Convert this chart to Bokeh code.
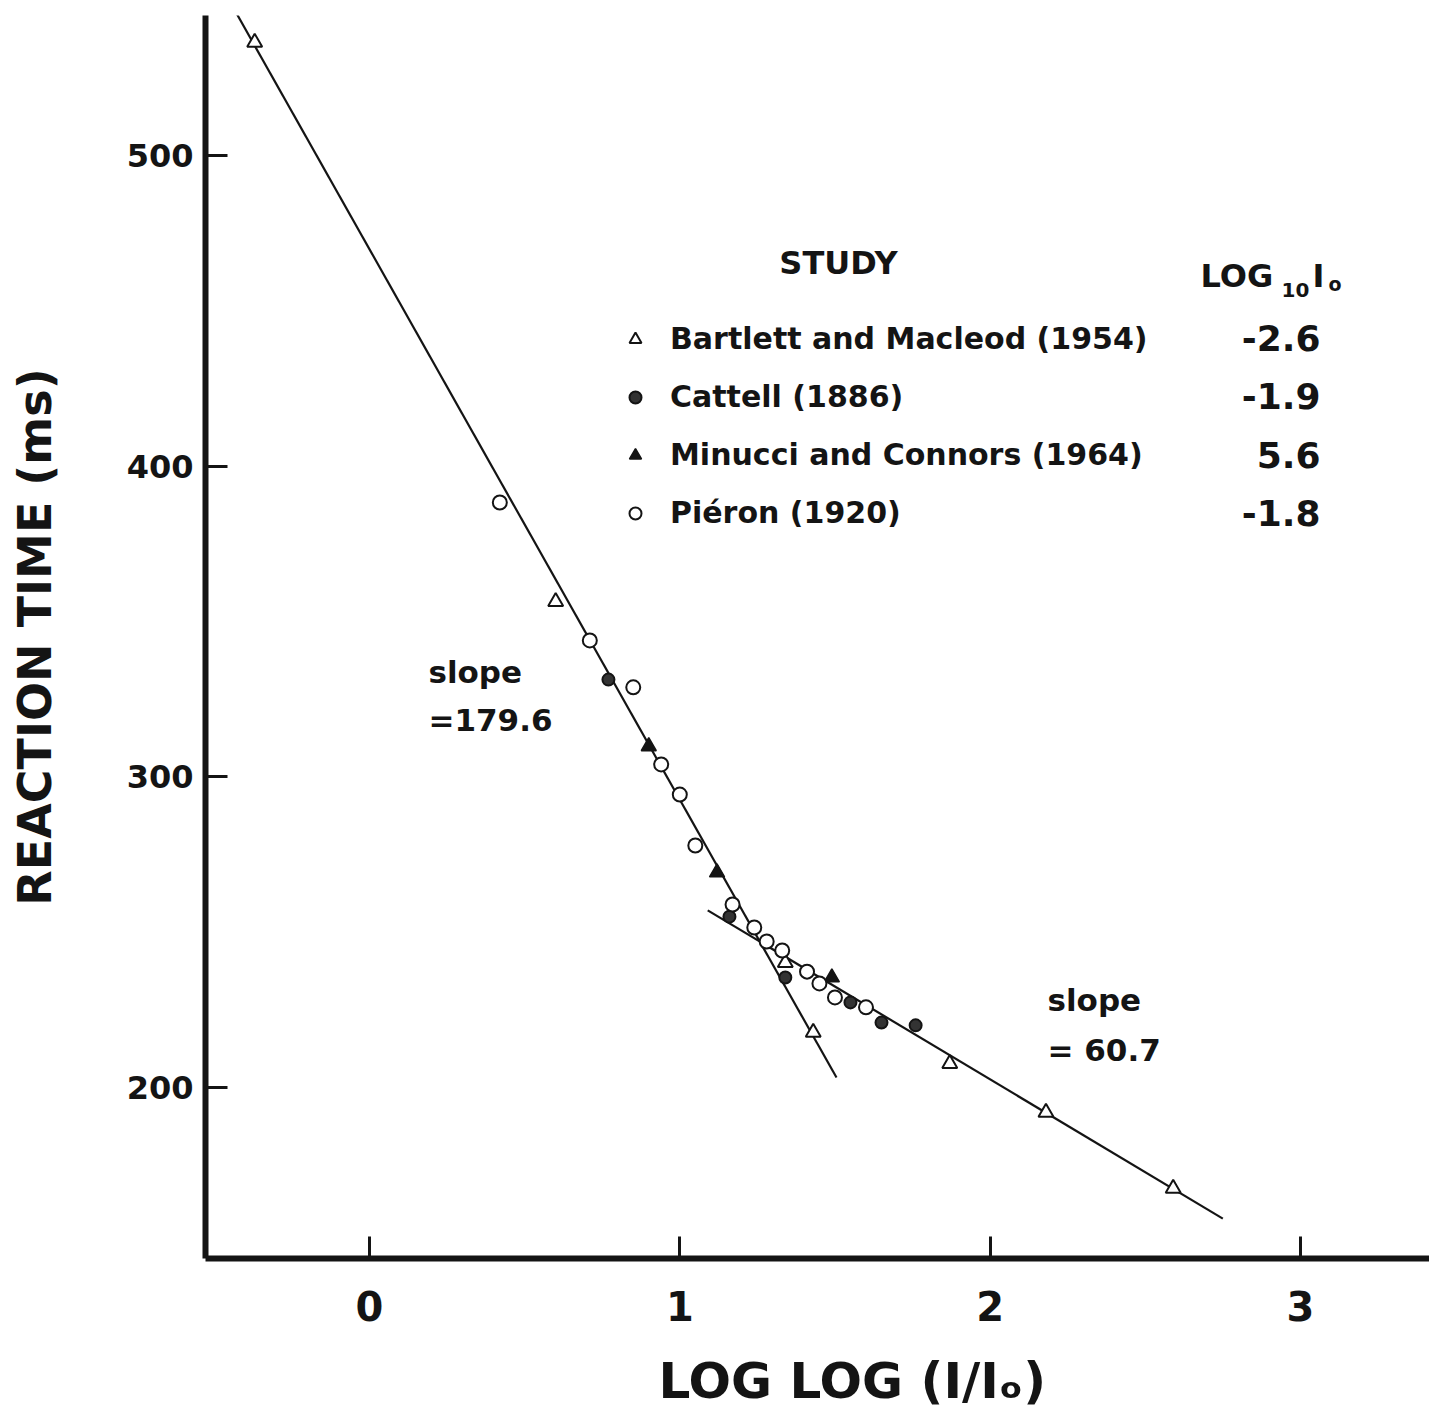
import math
from bokeh.plotting import figure
from bokeh.models import Range1d, Label, Legend, LegendItem, FixedTicker
from bokeh.embed import file_html
from bokeh.resources import INLINE

# ---------------- data ----------------
studies = ["Bartlett and Macleod (1954)", "Cattell (1886)",
           "Minucci and Connors (1964)", "Piéron (1920)"]
log10_I0 = ["-2.6", "-1.9", "5.6", "-1.8"]

bartlett_x = [-0.37, 0.60, 1.34, 1.43, 1.87, 2.18, 2.59]
bartlett_y = [536.4, 356.4, 240.2, 217.7, 207.7, 192.0, 167.5]

cattell_x = [0.77, 1.16, 1.34, 1.55, 1.65, 1.76]
cattell_y = [331.3, 255.0, 235.4, 227.4, 220.9, 220.0]

minucci_x = [0.90, 1.12, 1.49]
minucci_y = [309.8, 269.2, 235.4]

pieron_x = [0.42, 0.71, 0.85, 0.94, 1.00, 1.05, 1.17, 1.24, 1.28, 1.33,
            1.41, 1.45, 1.50, 1.60]
pieron_y = [388.3, 343.9, 328.8, 304.0, 294.3, 277.9, 258.9, 251.5, 247.0,
            244.1, 237.3, 233.5, 229.0, 225.8]

fit1_x = [-0.43, 1.505]
fit1_y = [546.0, 203.2]
fit2_x = [1.09, 2.75]
fit2_y = [257.0, 157.8]
slopes = [179.6, 60.7]

x_ticks = [0, 1, 2, 3]
y_ticks = [200, 300, 400, 500]

# ---------------- figure ----------------
FONT = "DejaVu Sans"
INK = "#141414"

p = figure(width=1429, height=1416, output_backend="svg", toolbar_location=None,
           x_range=Range1d(-0.5285, 3.416), y_range=Range1d(144.96, 545.06),
           min_border_left=205, min_border_right=0, min_border_top=15,
           min_border_bottom=158)
p.xgrid.visible = False
p.ygrid.visible = False
p.outline_line_color = None
p.background_fill_color = "white"
p.border_fill_color = "white"

for ax in (p.xaxis[0], p.yaxis[0]):
    ax.axis_line_width = 6
    ax.axis_line_color = INK
    ax.major_tick_in = 22
    ax.major_tick_out = 0
    ax.major_tick_line_width = 3
    ax.major_tick_line_color = INK
    ax.minor_tick_line_color = None
    ax.major_label_text_font = FONT
    ax.major_label_text_font_style = "bold"
    ax.major_label_text_color = INK
    ax.axis_label_text_font = FONT
    ax.axis_label_text_font_style = "bold"
    ax.axis_label_text_color = INK

p.xaxis.ticker = FixedTicker(ticks=x_ticks)
p.yaxis.ticker = FixedTicker(ticks=y_ticks)
p.xaxis.major_label_text_font_size = "40px"
p.xaxis.major_label_standoff = 32
p.yaxis.major_label_text_font_size = "32px"
p.yaxis.major_label_standoff = 12

p.yaxis.axis_label = "REACTION TIME (ms)"
p.yaxis.axis_label_text_font_size = "46px"
p.yaxis.axis_label_standoff = 62
# non-breaking spaces nudge the centred title to the right, as in the original
p.xaxis.axis_label = "\u00a0\u00a0\u00a0\u00a0LOG LOG (I/I\u2092)"
p.xaxis.axis_label_text_font_size = "50px"
p.xaxis.axis_label_standoff = 28

# fitted lines
p.line(fit1_x, fit1_y, line_color=INK, line_width=2.2)
p.line(fit2_x, fit2_y, line_color=INK, line_width=2.2)

# data points
r_b = p.scatter(bartlett_x, bartlett_y, marker="triangle", size=15,
                fill_color="white", line_color=INK, line_width=2)
r_c = p.scatter(cattell_x, cattell_y, marker="circle", size=12,
                fill_color="#333333", line_color=INK, line_width=2)
r_m = p.scatter(minucci_x, minucci_y, marker="triangle", size=15,
                fill_color=INK, line_color=INK, line_width=1.5)
r_p = p.scatter(pieron_x, pieron_y, marker="circle", size=14,
                fill_color="white", line_color=INK, line_width=2)

# legend
legend = Legend(items=[LegendItem(label=studies[0], renderers=[r_b]),
                       LegendItem(label=studies[1], renderers=[r_c]),
                       LegendItem(label=studies[2], renderers=[r_m]),
                       LegendItem(label=studies[3], renderers=[r_p])],
                location=(415, 728), orientation="vertical",
                glyph_width=30, glyph_height=30, label_height=30,
                label_standoff=20, spacing=23, padding=0, margin=0,
                border_line_color=None, background_fill_alpha=0,
                label_text_font=FONT, label_text_font_style="bold",
                label_text_font_size="30px", label_text_color=INK)
p.add_layout(legend)


def px2x(px):
    return (px - 369) / 310.3


def py2y(py):
    return 500 - (py - 155) / 3.1067


def add_text(text, px, py, size, align="left", baseline="middle", angle=0):
    p.add_layout(Label(x=px2x(px), y=py2y(py), text=text, text_font=FONT,
                       text_font_style="bold", text_font_size=f"{size}px",
                       text_color=INK, text_align=align,
                       text_baseline=baseline, angle=angle))


# legend headers and values
add_text("STUDY", 838, 263, 32, align="center")
add_text("LOG", 1200, 276, 32, baseline="alphabetic")
add_text("10", 1281, 290, 20, baseline="alphabetic")
add_text("I", 1312, 276, 32, baseline="alphabetic")
add_text("o", 1328, 284, 19, baseline="alphabetic")
for v, row_py in zip(log10_I0, [338, 396, 455, 513]):
    add_text(v, 1320, row_py, 36, align="right")

# slope annotations
add_text("slope", 428, 672, 31)
add_text(f"={slopes[0]}", 428, 720, 31)
add_text("slope", 1047, 1000, 31)
add_text(f"= {slopes[1]}", 1047, 1050, 31)

open("out.html", "w").write(file_html(p, INLINE))
